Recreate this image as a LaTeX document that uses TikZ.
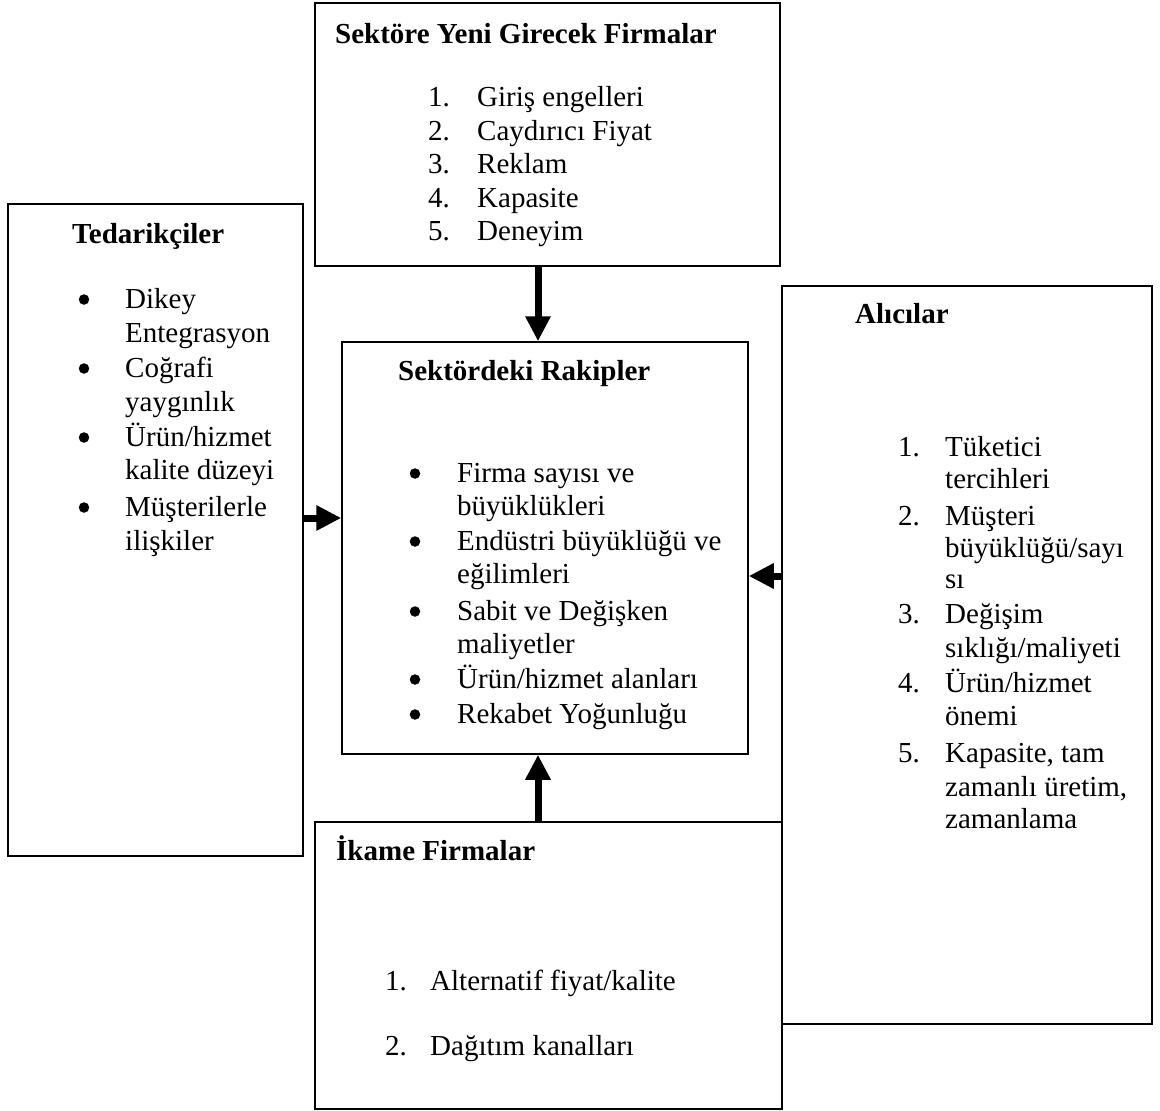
\documentclass[tikz,border=0pt]{standalone}
\usepackage{fontspec}
\setmainfont{Liberation Serif}
\usetikzlibrary{arrows.meta}
\begin{document}
\begin{tikzpicture}[x=1pt,y=-1pt,
  box/.style={draw,line width=1.5pt,rectangle,inner sep=0pt},
  txt/.style={anchor=base west,inner sep=0pt,font=\fontsize{29}{33}\selectfont},
  head/.style={anchor=base west,inner sep=0pt,font=\fontsize{29}{33}\selectfont\bfseries},
  dot/.style={circle,fill,inner sep=0pt,minimum size=10.5pt},
  force/.style={line width=7pt,-{Triangle[length=25pt,width=24pt]}}]
\useasboundingbox[fill=white] (0,0) rectangle (1160,1111);

% the five forces as framed boxes
\node[box,minimum width=465pt,minimum height=263pt] (top) at (547.5,134.5) {};
\node[box,minimum width=295pt,minimum height=652pt] (left) at (155.5,530) {};
\node[box,minimum width=406pt,minimum height=412pt] (mid) at (545,548) {};
\node[box,minimum width=370pt,minimum height=738pt] (right) at (967,655) {};
\node[box,minimum width=467pt,minimum height=287pt] (bottom) at (548.5,965.5) {};

% arrows pointing at the central box
\draw[force] ([xshift=-9.5pt]top.south) -- ([xshift=-7pt]mid.north);
\draw[force] ([xshift=-10.5pt]bottom.north) -- ([xshift=-7pt]mid.south);
\draw[force] ([yshift=12pt]left.east) -- ([yshift=30pt]mid.west);
\draw[force] ([yshift=79pt]right.west) -- ([yshift=-28pt]mid.east);

% new entrants
\node[head] (top-h) at (335,43) {Sektöre Yeni Girecek Firmalar};
\foreach \y/\n/\t in {106/1/{Giriş engelleri},140/2/{Caydırıcı Fiyat},173/3/{Reklam},207/4/{Kapasite},240/5/{Deneyim}}{
  \node[txt] (top-n\n) at (428,\y) {\n.};
  \node[txt] (top-t\n) at (477,\y) {\t};
}

% suppliers
\node[head] (left-h) at (72,243) {Tedarikçiler};
\foreach \y/\n in {308/1,377/2,446/3,516/4}{
  \node[dot] (left-b\n) at (84,\y-8.5) {};
}
\foreach \y/\n/\t in {308/1/{Dikey},342/2/{Entegrasyon},377/3/{Coğrafi},411/4/{yaygınlık},446/5/{Ürün/hizmet},479/6/{kalite düzeyi},516/7/{Müşterilerle},550/8/{ilişkiler}}{
  \node[txt] (left-t\n) at (125,\y) {\t};
}

% rivals
\node[head] (mid-h) at (398,380) {Sektördeki Rakipler};
\foreach \y/\n in {482/1,550/2,620/3,688/4,723/5}{
  \node[dot] (mid-b\n) at (415,\y-8.5) {};
}
\foreach \y/\n/\t in {482/1/{Firma sayısı ve},515/2/{büyüklükleri},550/3/{Endüstri büyüklüğü ve},583/4/{eğilimleri},620/5/{Sabit ve Değişken},653/6/{maliyetler},688/7/{Ürün/hizmet alanları},723/8/{Rekabet Yoğunluğu}}{
  \node[txt] (mid-t\n) at (457,\y) {\t};
}

% buyers
\node[head] (right-h) at (855,323) {Alıcılar};
\foreach \y/\n in {456/1,525/2,623/3,692/4,762/5}{
  \node[txt] (right-n\n) at (898,\y) {\n.};
}
\foreach \y/\n/\t in {456/1/{Tüketici},488/2/{tercihleri},525/3/{Müşteri},557/4/{büyüklüğü/sayı},588/5/{sı},623/6/{Değişim},657/7/{sıklığı/maliyeti},692/8/{Ürün/hizmet},725/9/{önemi},762/10/{Kapasite, tam},796/11/{zamanlı üretim,},828/12/{zamanlama}}{
  \node[txt] (right-t\n) at (945,\y) {\t};
}

% substitutes
\node[head] (bottom-h) at (336,860) {İkame Firmalar};
\node[txt] (bottom-n1) at (385,990) {1.};
\node[txt] (bottom-t1) at (430,990) {Alternatif fiyat/kalite};
\node[txt] (bottom-n2) at (385,1055) {2.};
\node[txt] (bottom-t2) at (430,1055) {Dağıtım kanalları};
\end{tikzpicture}
\end{document}
